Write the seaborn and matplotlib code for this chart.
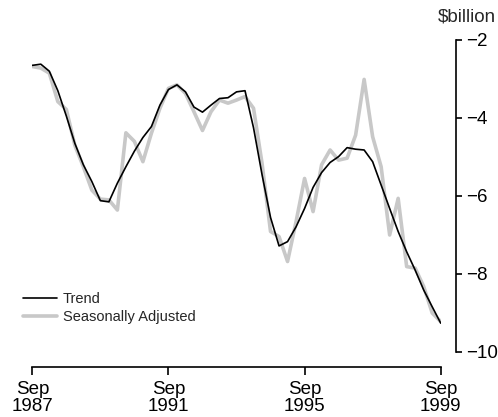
import numpy as np
import pandas as pd
import matplotlib
matplotlib.use("Agg")
import matplotlib.pyplot as plt
import seaborn as sns

# Quarterly series, Sep 1987 to Sep 1999 ($billion)
trend = [-2.65, -2.62, -2.80, -3.30, -3.95, -4.65, -5.20, -5.63, -6.12, -6.15,
         -5.67, -5.25, -4.85, -4.50, -4.22, -3.67, -3.27, -3.15, -3.33, -3.72,
         -3.85, -3.67, -3.50, -3.48, -3.33, -3.30, -4.25, -5.45, -6.55, -7.28,
         -7.17, -6.79, -6.32, -5.78, -5.40, -5.14, -4.99, -4.76, -4.80, -4.82,
         -5.12, -5.72, -6.32, -6.91, -7.43, -7.90, -8.41, -8.84, -9.26]
seas_adj = [-2.68, -2.72, -2.85, -3.58, -3.78, -4.70, -5.25, -5.85, -6.08, -6.10,
            -6.36, -4.38, -4.60, -5.12, -4.39, -3.75, -3.24, -3.15, -3.37, -3.84,
            -4.32, -3.84, -3.54, -3.62, -3.54, -3.45, -3.75, -5.16, -6.91, -7.04,
            -7.68, -6.66, -5.55, -6.40, -5.20, -4.82, -5.08, -5.03, -4.44, -3.01,
            -4.48, -5.25, -7.00, -6.06, -7.81, -7.85, -8.32, -9.00, -9.22]
tick_pos = [0, 16, 32, 48]
tick_labels = ["Sep\n1987", "Sep\n1991", "Sep\n1995", "Sep\n1999"]
y_ticks = [-10, -8, -6, -4, -2]

quarter = np.arange(len(trend))
df = pd.DataFrame({"quarter": quarter, "Trend": trend,
                   "Seasonally Adjusted": seas_adj})

sns.set_style("white")
plt.rcParams["font.family"] = ["Liberation Sans", "DejaVu Sans"]

fig = plt.figure(figsize=(4.98, 4.17), dpi=100)
ax = fig.add_axes([32.3 / 498, 1 - 352 / 417, (440.7 - 32.3) / 498, (352 - 40) / 417])

sns.lineplot(data=df, x="quarter", y="Seasonally Adjusted", ax=ax,
             color="#c8c8c8", linewidth=2.6, label="Seasonally Adjusted", zorder=2)
sns.lineplot(data=df, x="quarter", y="Trend", ax=ax,
             color="black", linewidth=1.2, label="Trend", zorder=3)

ax.set_xlim(0, 48)
ax.set_ylim(-10, -2)
ax.set_xlabel("")
ax.set_ylabel("")

for s in ["top", "left"]:
    ax.spines[s].set_visible(False)
ax.spines["right"].set_position(("outward", 11))
ax.spines["bottom"].set_position(("outward", 11))
for s in ["right", "bottom"]:
    ax.spines[s].set_color("black")
    ax.spines[s].set_linewidth(1.2)

ax.yaxis.tick_right()
ax.set_yticks(y_ticks)
ax.set_xticks(tick_pos)
ax.set_xticklabels(tick_labels, linespacing=1.0)
ax.tick_params(axis="y", which="both", right=True, left=False, length=4,
               width=1.2, pad=3, labelsize=13.5, colors="black")
ax.tick_params(axis="x", which="both", bottom=True, length=6, width=1.2,
               pad=4, labelsize=13.5, colors="black")

fig.text(467 / 498, 1 - 17 / 417, "$billion", ha="center", va="center",
         fontsize=13.5)

handles, labels = ax.get_legend_handles_labels()
order = [labels.index("Trend"), labels.index("Seasonally Adjusted")]
ax.legend([handles[i] for i in order], [labels[i] for i in order],
          loc="upper left", bbox_to_anchor=(23 / 498, 1 - 292 / 417),
          bbox_transform=fig.transFigure, frameon=False, fontsize=10.5,
          handlelength=2.3, handletextpad=0.45, labelspacing=0.3,
          borderpad=0, borderaxespad=0)

fig.savefig("out.png", dpi=100)
